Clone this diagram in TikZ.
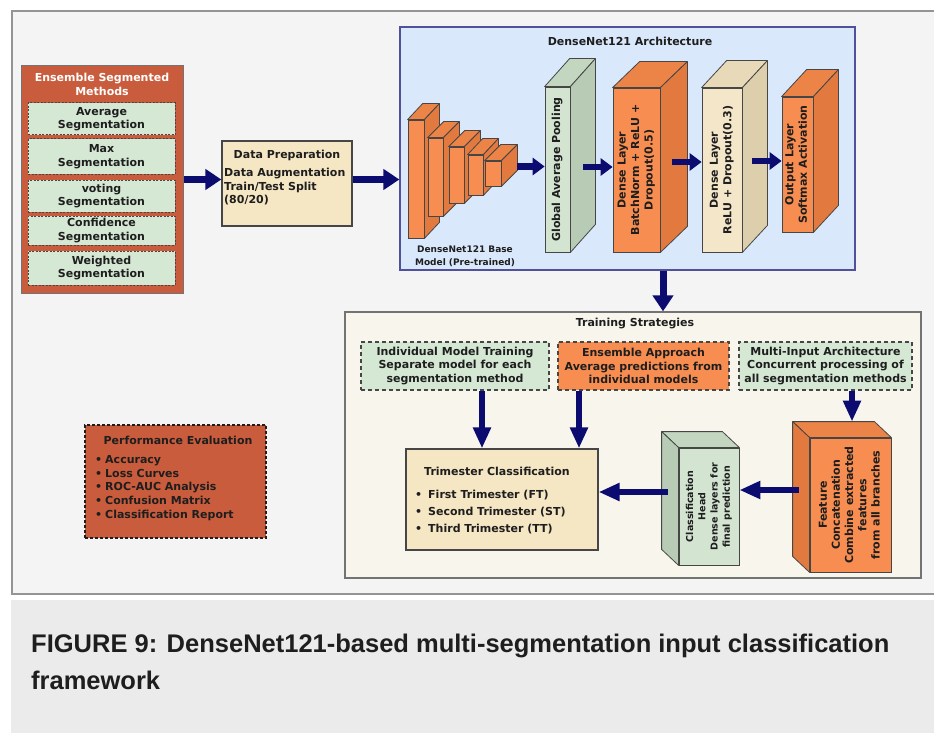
\documentclass[tikz,border=0pt]{standalone}
\usepackage{fontspec}
\setmainfont{DejaVu Sans}
\newfontfamily\capfont{Liberation Sans}
\usetikzlibrary{arrows.meta}
\definecolor{arrnavy}{RGB}{12,12,112}
\definecolor{brick}{RGB}{201,92,60}
\definecolor{lgreen}{RGB}{213,232,212}
\definecolor{wheat}{RGB}{245,230,196}
\definecolor{orF}{RGB}{247,141,80}
\definecolor{orT}{RGB}{236,131,71}
\definecolor{orS}{RGB}{226,122,64}
\definecolor{grF}{RGB}{211,228,209}
\definecolor{grT}{RGB}{194,214,192}
\definecolor{grS}{RGB}{183,203,181}
\definecolor{crF}{RGB}{243,230,201}
\definecolor{crT}{RGB}{232,218,184}
\definecolor{crS}{RGB}{222,207,172}
\definecolor{blueF}{RGB}{218,232,252}
\definecolor{blueB}{RGB}{80,80,155}
\definecolor{trainF}{RGB}{248,245,236}
\definecolor{frameF}{RGB}{244,244,244}
\definecolor{capF}{RGB}{235,235,235}
\definecolor{txt}{RGB}{30,30,30}
\definecolor{edge}{RGB}{70,70,70}
\newcommand\vlab[1]{\rotatebox{90}{\begin{tabular}{@{}c@{}}#1\end{tabular}}}
\newcommand\cubeR[5]{%
  \filldraw[fill=#4,draw=edge,line width=0.8pt,line join=round] (#1.north west) -- ++(#2,#3) -- ([shift={(#2,#3)}]#1.north east) -- (#1.north east) -- cycle;
  \filldraw[fill=#5,draw=edge,line width=0.8pt,line join=round] (#1.north east) -- ++(#2,#3) -- ([shift={(#2,#3)}]#1.south east) -- (#1.south east) -- cycle;}
\newcommand\cubeL[5]{%
  \filldraw[fill=#4,draw=edge,line width=0.8pt,line join=round] (#1.north west) -- ++(#2,#3) -- ([shift={(#2,#3)}]#1.north east) -- (#1.north east) -- cycle;
  \filldraw[fill=#5,draw=edge,line width=0.8pt,line join=round] (#1.north west) -- ++(#2,#3) -- ([shift={(#2,#3)}]#1.south west) -- (#1.south west) -- cycle;}
\tikzset{
  face/.style={draw=edge, line width=0.8pt},
  segbox/.style={draw=edge, dash pattern=on 2pt off 1.5pt, line width=1pt, fill=lgreen, minimum width=147pt},
  tbox/.style={draw=edge, dash pattern=on 4pt off 3pt, line width=1.3pt, minimum height=48pt},
  arrA/.style={draw=arrnavy, line width=7pt, -{Triangle[length=16pt,width=20pt]}},
  arrB/.style={draw=arrnavy, line width=6.5pt, -{Triangle[length=12pt,width=17pt]}},
  arrC/.style={draw=arrnavy, line width=6.5pt, -{Triangle[length=21pt,width=17pt]}},
  captext/.style={anchor=base west, font=\capfont\fontsize{25.5}{30}\selectfont\bfseries, text=txt},
}
\begin{document}
\begin{tikzpicture}[x=1pt,y=-1pt, every node/.style={inner sep=0pt, align=center, text=txt, font=\fontsize{11}{13.5}\selectfont\bfseries}]
\useasboundingbox (0,0) rectangle (934,733);
\fill[white] (0,0) rectangle (934,733);
\filldraw[fill=frameF, draw=black!42, line width=1.5pt] (12,11) rectangle (950,594);
\fill[capF] (11,600) rectangle (940,740);

% Ensemble segmented methods
\node[draw=black!55, fill=brick, line width=1pt, minimum width=162pt, minimum height=227pt] (ens) at (102,179.5) {};
\node[text=white] (enst) at (102,84.5) {Ensemble Segmented\\Methods};
\node[segbox, minimum height=32pt] (s1) at (101.5,119) {Average\\Segmentation};
\node[segbox, minimum height=35pt] (s2) at (101.5,156.5) {Max\\Segmentation};
\node[segbox, minimum height=32pt] (s3) at (101.5,196) {voting\\Segmentation};
\node[segbox, minimum height=29pt] (s4) at (101.5,230.5) {Confidence\\Segmentation};
\node[segbox, minimum height=34pt] (s5) at (101.5,268) {Weighted\\Segmentation};

% Data preparation
\node[draw=edge, fill=wheat, line width=1.2pt, minimum width=130pt, minimum height=85pt] (dp) at (287,183.5) {};
\node (dpt) at (287,155) {Data Preparation};
\node[anchor=west, align=left] (dpb) at (224,187) {Data Augmentation\\Train/Test Split\\(80/20)};

% DenseNet box
\node[draw=blueB, fill=blueF, line width=1.2pt, minimum width=455pt, minimum height=243pt] (dn) at (627.5,148.5) {};
\node (dnt) at (630,41) {DenseNet121 Architecture};

\draw[arrA] (ens.east) -- (ens.east -| dp.west);
\draw[arrA] (dp.east |- ens.east) -- (dn.west |- ens.east);

% base model stack
\node[face, fill=orF, minimum width=16pt, minimum height=118pt] (b1) at (416,179) {};
\cubeR{b1}{15}{-16}{orT}{orS}
\node[face, fill=orF, minimum width=15pt, minimum height=78pt] (b2) at (435.5,177) {};
\cubeR{b2}{16}{-16}{orT}{orS}
\node[face, fill=orF, minimum width=15pt, minimum height=56pt] (b3) at (456.5,175) {};
\cubeR{b3}{16}{-16}{orT}{orS}
\node[face, fill=orF, minimum width=15pt, minimum height=40pt] (b4) at (475.5,175) {};
\cubeR{b4}{15}{-16}{orT}{orS}
\node[face, fill=orF, minimum width=16pt, minimum height=25pt] (b5) at (493,173.5) {};
\cubeR{b5}{16}{-16}{orT}{orS}
\node[font=\fontsize{9}{12.5}\selectfont\bfseries] (bl) at (465,256.5) {DenseNet121 Base\\Model (Pre-trained)};

\node[face, fill=grF, minimum width=25pt, minimum height=165pt] (gap) at (557.5,169.5) {\vlab{Global Average Pooling}};
\cubeR{gap}{25}{-28}{grT}{grS}
\node[face, fill=orF, minimum width=47pt, minimum height=164pt] (d1) at (636.5,170) {\vlab{Dense Layer\\BatchNorm + ReLU +\\Dropout(0.5)}};
\cubeR{d1}{27}{-26}{orT}{orS}
\node[face, fill=crF, minimum width=40pt, minimum height=164pt] (d2) at (722,170) {\vlab{Dense Layer\\ReLU + Dropout(0.3)}};
\cubeR{d2}{25}{-27}{crT}{crS}
\node[face, fill=orF, minimum width=31pt, minimum height=135pt] (out) at (797.5,164.5) {\vlab{Output Layer\\Softmax Activation}};
\cubeR{out}{25}{-27}{orT}{orS}

\coordinate (t1) at ([shift={(16,-7)}]b5.east);
\draw[arrB] (t1) -- (t1 -| gap.west);
\coordinate (t2) at ([shift={(13,-2.5)}]gap.east);
\draw[arrB] (t2) -- (t2 -| d1.west);
\coordinate (t3) at ([shift={(12,-8)}]d1.east);
\draw[arrB] (t3) -- (t3 -| d2.west);
\coordinate (t4) at ([shift={(10,-9)}]d2.east);
\draw[arrB] (t4) -- (t4 -| out.west);

% Training strategies
\node[draw=black!55, fill=trainF, line width=1.2pt, minimum width=576pt, minimum height=266pt] (tr) at (633,445) {};
\node (trt) at (635,324) {Training Strategies};
\coordinate (t5) at ([xshift=35.5pt]dn.south);
\draw[arrA] (t5) -- (t5 |- tr.north);

\node[tbox, fill=lgreen, minimum width=188pt] (ind) at (455,366) {Individual Model Training\\Separate model for each\\segmentation method};
\node[tbox, fill=orF, minimum width=171pt] (eap) at (643.5,366) {Ensemble Approach\\Average predictions from\\individual models};
\node[tbox, fill=lgreen, minimum width=173pt] (mul) at (825.5,366) {Multi-Input Architecture\\Concurrent processing of\\all segmentation methods};

\node[draw=edge, fill=wheat, line width=1.2pt, minimum width=192pt, minimum height=101pt] (tri) at (502,499.5) {};
\node (trit) at (497,471) {Trimester Classification};
\node[anchor=west, align=left, font=\fontsize{11}{17}\selectfont\bfseries] (tril) at (415,512) {\textbullet\hspace{6pt}First Trimester (FT)\\\textbullet\hspace{6pt}Second Trimester (ST)\\\textbullet\hspace{6pt}Third Trimester (TT)};

\node[face, fill=grF, minimum width=60pt, minimum height=117pt, font=\fontsize{9.5}{12.3}\selectfont\bfseries] (head) at (709,506.5) {\vlab{Classification\\Head\\Dense layers for\\final prediction}};
\cubeL{head}{-17}{-16}{grT}{grS}
\node[face, fill=orF, minimum width=81pt, minimum height=134pt, font=\fontsize{11}{13.2}\selectfont\bfseries] (feat) at (850.5,505) {\vlab{Feature\\Concatenation\\Combine extracted\\features\\from all branches}};
\cubeL{feat}{-17}{-16}{orT}{orS}

\coordinate (t6) at ([xshift=27pt]ind.south);
\draw[arrC] (t6) -- (t6 |- tri.north);
\coordinate (t7) at ([xshift=-64.5pt]eap.south);
\draw[arrC] (t7) -- (t7 |- tri.north);
\coordinate (t8) at ([xshift=26.5pt]mul.south);
\coordinate (f8) at ([yshift=16pt]feat.north);
\draw[arrC] (t8) -- (t8 |- f8);
\coordinate (t9) at ([shift={(-11,-15)}]feat.west);
\draw[arrC] (t9) -- (t9 -| head.east);
\coordinate (t10) at ([shift={(-11,-14.5)}]head.west);
\draw[arrC] (t10) -- (t10 -| tri.east);

% Performance evaluation
\node[draw=txt, dash pattern=on 3pt off 2pt, line width=1.3pt, fill=brick, minimum width=181pt, minimum height=113pt] (perf) at (175.5,481.5) {};
\node (perft) at (178,440) {Performance Evaluation};
\node[anchor=west, align=left, font=\fontsize{11}{13.75}\selectfont\bfseries] (perfl) at (95,488) {\textbullet\hspace{3pt}Accuracy\\\textbullet\hspace{3pt}Loss Curves\\\textbullet\hspace{3pt}ROC-AUC Analysis\\\textbullet\hspace{3pt}Confusion Matrix\\\textbullet\hspace{3pt}Classification Report};

% Caption
\node[captext] (cap1) at (31,652) {FIGURE 9: DenseNet121-based multi-segmentation input classification};
\node[captext] (cap2) at (31,689) {framework};
\end{tikzpicture}
\end{document}
